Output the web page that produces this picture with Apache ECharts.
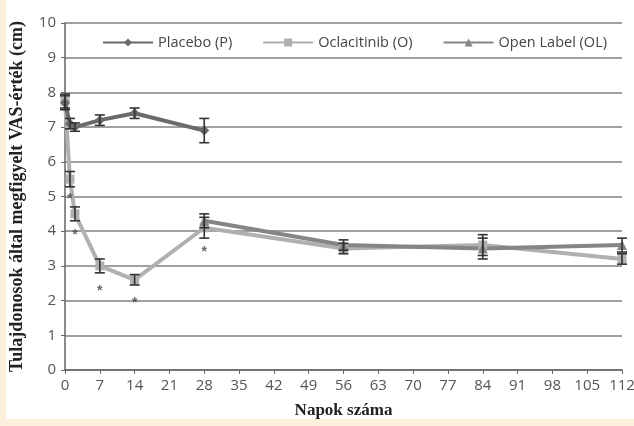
<!DOCTYPE html>
<html><head><meta charset="utf-8">
<script src="https://cdn.jsdelivr.net/npm/echarts@6/dist/echarts.min.js"></script>
<style>
html,body{margin:0;padding:0;background:#fcf0dc;}
#bg{position:absolute;left:6px;top:0;width:628px;height:419px;background:#fff;}
#c{position:absolute;left:0;top:0;width:634px;height:426px;}
</style></head><body>
<div id="bg"></div>
<div id="c"></div>
<script>
const days = [0,1,2,7,14,28,56,84,112];
const xTicks = [0,7,14,21,28,35,42,49,56,63,70,77,84,91,98,105,112];
const placeboDays = [0,1,2,7,14,28];
const placeboMean = [7.7,7.1,7.0,7.2,7.4,6.9];
const placeboErr  = [0.2,0.15,0.12,0.15,0.15,0.35];
const oclaDays = [0,1,2,7,14,28,56,84,112];
const oclaMean = [7.75,5.5,4.5,3.0,2.6,4.1,3.5,3.6,3.2];
const oclaErr  = [0.2,0.22,0.2,0.2,0.15,0.3,0.15,0.3,0.15];
const olDays = [28,56,84,112];
const olMean = [4.3,3.6,3.5,3.6];
const olErr  = [0.2,0.15,0.3,0.2];
const starDays = [1,2,7,14,28];
const starVals = [5.05,4.0,2.4,2.05,3.5];

const cPl = '#6a6a6a', cO = '#b0b0b0', cOL = '#858585';

function pts(d,m){return d.map((x,i)=>[x,m[i]]);}
function errData(d,m,e){return d.map((x,i)=>[x,m[i]-e[i],m[i]+e[i]]);}
function errSeries(d,m,e){
  return {type:'custom',silent:true,z:5,
    renderItem:function(params,api){
      const x=api.value(0);
      const lo=api.coord([x,api.value(1)]);
      const hi=api.coord([x,api.value(2)]);
      const w=5;
      const st={stroke:'#333',lineWidth:1.6};
      return {type:'group',children:[
        {type:'line',shape:{x1:lo[0],y1:lo[1],x2:hi[0],y2:hi[1]},style:st},
        {type:'line',shape:{x1:lo[0]-w,y1:lo[1],x2:lo[0]+w,y2:lo[1]},style:st},
        {type:'line',shape:{x1:hi[0]-w,y1:hi[1],x2:hi[0]+w,y2:hi[1]},style:st}
      ]};
    },
    encode:{x:0,y:[1,2]},
    data:errData(d,m,e)};
}
const chart = echarts.init(document.getElementById('c'));
const serif = '"Liberation Serif", "DejaVu Serif", serif';
const sans = '"Open Sans", "Liberation Sans", sans-serif';
chart.setOption({
  animation:false,
  grid:{left:65,right:12,top:23,bottom:56,containLabel:false,outerBoundsMode:'none'},
  legend:{top:32,left:96,itemGap:30,itemWidth:50,itemHeight:10,
    backgroundColor:'#fff',padding:[3,6],
    textStyle:{fontFamily:sans,fontSize:14.5,color:'#444'},
    data:['Placebo (P)','Oclacitinib (O)','Open Label (OL)']},
  xAxis:{type:'value',min:0,max:112,interval:7,
    name:'Napok száma',nameLocation:'middle',nameGap:32,
    nameTextStyle:{fontFamily:serif,fontWeight:'bold',fontSize:17,color:'#222'},
    axisLine:{lineStyle:{color:'#666',width:1.5}},
    axisTick:{show:true,length:4,lineStyle:{color:'#666'}},
    axisLabel:{fontFamily:sans,fontSize:15,color:'#555',margin:8},
    splitLine:{show:false}},
  yAxis:{type:'value',min:0,max:10,interval:1,
    name:'Tulajdonosok által megfigyelt VAS-érték (cm)',nameLocation:'middle',nameGap:39,
    nameTextStyle:{fontFamily:serif,fontWeight:'bold',fontSize:18,color:'#222'},
    axisLine:{show:true,lineStyle:{color:'#666',width:1.5}},
    axisTick:{show:true,length:4,lineStyle:{color:'#666'}},
    axisLabel:{fontFamily:sans,fontSize:15,color:'#555',margin:9},
    splitLine:{show:true,lineStyle:{color:'#a0a0a0',width:2}}},
  series:[
    {name:'Placebo (P)',type:'line',data:pts(placeboDays,placeboMean),symbol:'diamond',symbolSize:10,
      lineStyle:{color:cPl,width:4},itemStyle:{color:cPl},z:4},
    {name:'Oclacitinib (O)',type:'line',data:pts(oclaDays,oclaMean),symbol:'rect',symbolSize:9,
      lineStyle:{color:cO,width:4},itemStyle:{color:cO},z:3},
    {name:'Open Label (OL)',type:'line',data:pts(olDays,olMean),symbol:'triangle',symbolSize:10,
      lineStyle:{color:cOL,width:4},itemStyle:{color:cOL},z:3},
    errSeries(placeboDays,placeboMean,placeboErr),
    errSeries(oclaDays,oclaMean,oclaErr),
    errSeries(olDays,olMean,olErr),
    {type:'scatter',silent:true,data:pts(starDays,starVals),symbolSize:0,
      label:{show:true,formatter:'*',position:'inside',fontSize:14,fontWeight:'bold',color:'#444',offset:[0,4]},z:6}
  ]
});
</script></body></html>
